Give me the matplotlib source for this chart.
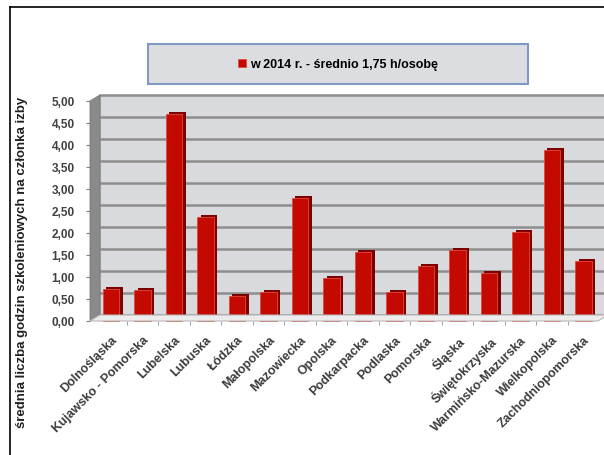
import numpy as np
import matplotlib
matplotlib.use("Agg")
import matplotlib.pyplot as plt
from matplotlib.patches import Polygon, Rectangle
from matplotlib.transforms import ScaledTranslation, IdentityTransform
from matplotlib.ticker import FixedLocator, FuncFormatter

plt.rcParams['font.family'] = ['Liberation Sans', 'DejaVu Sans']

regions = ['Dolnośląska', 'Kujawsko - Pomorska', 'Lubelska', 'Lubuska', 'Łódzka',
           'Małopolska', 'Mazowiecka', 'Opolska', 'Podkarpacka', 'Podlaska',
           'Pomorska', 'Śląska', 'Świętokrzyska', 'Warmińsko-Mazurska',
           'Wielkopolska', 'Zachodniopomorska']
hours = [0.72, 0.70, 4.70, 2.36, 0.56, 0.66, 2.80, 0.98, 1.57, 0.67,
         1.24, 1.62, 1.09, 2.03, 3.88, 1.36]
series_label = 'w 2014 r. - średnio 1,75 h/osobę'
y_title = 'średnia liczba godzin szkoleniowych na członka izby'

W, H = 604, 456
DPI = 100
fig = plt.figure(figsize=(W / DPI, H / DPI), dpi=DPI)

def fx(px):
    return px / W

def fy(py):
    return 1 - py / H

# front plane of the pseudo-3D box
left, right, top, bottom = 90, 598, 102, 322
ax = fig.add_axes([fx(left), fy(bottom), fx(right - left), (bottom - top) / H])
ax.set_xlim(-0.667, 15.46)
ax.set_ylim(0, 5)
ax.patch.set_visible(False)
for s in ax.spines.values():
    s.set_visible(False)

# depth offset of the back wall, in pixels
ox, oy = 10, 6
back = ax.transData + ScaledTranslation(ox / DPI, oy / DPI, fig.dpi_scale_trans)
back_axes = ax.transAxes + ScaledTranslation(ox / DPI, oy / DPI, fig.dpi_scale_trans)

# back wall
ax.add_patch(Rectangle((0, 0), 1, 1, transform=back_axes, facecolor='#d8dade',
                       edgecolor='#b0b0b0', lw=0.8, zorder=0, clip_on=False))
# gridlines on the back wall
ticks = np.arange(0, 5.01, 0.5)
for t in ticks:
    ax.plot([-0.667, 15.46], [t, t], color='#8e8e8e', lw=1.8,
            transform=back, zorder=1, clip_on=False)

# side wall and floor in pixel space
fl = ax.transAxes.transform((0, 0))
tl = ax.transAxes.transform((0, 1))
fr = ax.transAxes.transform((1, 0))
off = np.array([ox, oy])
side = Polygon([fl, tl, tl + off, fl + off], closed=True, transform=IdentityTransform(),
               facecolor='#8a8a8a', edgecolor='#777777', lw=0.6, zorder=1)
fig.patches.append(side)
floor = Polygon([fl, fr, fr + off, fl + off], closed=True, transform=IdentityTransform(),
                facecolor='#ececec', edgecolor='#b8b8b8', lw=0.8, zorder=1)
fig.patches.append(floor)

x = np.arange(len(regions))
bw = 0.51
# bar depth (side + top face)
shift = ScaledTranslation(3.5 / DPI, 2 / DPI, fig.dpi_scale_trans)
ax.bar(x, hours, width=bw, color='#7c0000', transform=ax.transData + shift,
       zorder=2, clip_on=False)
bars = ax.bar(x, hours, width=bw, color='#c40a00', edgecolor='#e04a3a', lw=0.6,
              zorder=3, clip_on=False, label=series_label)

ax.yaxis.set_major_locator(FixedLocator(ticks))
ax.yaxis.set_major_formatter(FuncFormatter(lambda v, p: f'{v:.2f}'.replace('.', ',')))
ax.tick_params(axis='y', length=3, color='#808080', labelsize=8.5, labelcolor='#404040', pad=8)
for lab in ax.get_yticklabels():
    lab.set_fontweight('bold')

ax.set_xticks(x)
ax.set_xticklabels(regions, rotation=45, ha='right', va='top', rotation_mode='anchor',
                   fontsize=9, fontweight='bold', color='#3c3c3c')
ax.xaxis.set_minor_locator(FixedLocator(x[:-1] + 0.5))
ax.tick_params(axis='x', which='major', length=0, pad=9)
ax.tick_params(axis='x', which='minor', length=3, color='#909090')

fig.text(fx(22), fy(262), y_title, rotation=90, ha='center', va='center',
         fontsize=9.5, fontweight='bold', color='#202020')

# legend box
fig.patches.append(Rectangle((fx(148), fy(85)), fx(528) - fx(148), (85 - 45) / H,
                             transform=fig.transFigure, facecolor='#dcdde0',
                             edgecolor='#7f98c4', lw=1.5, zorder=1))
fig.legend(handles=[bars], labels=[series_label], loc='center',
           bbox_to_anchor=(fx(338), fy(65)), frameon=False, handlelength=0.6,
           handleheight=0.6, handletextpad=0.3, prop={'size': 9, 'weight': 'bold'})

# outer frame lines
fig.add_artist(plt.Line2D([fx(10), 1], [fy(8), fy(8)], color='black', lw=1.2,
                          transform=fig.transFigure))
fig.add_artist(plt.Line2D([fx(10), fx(10)], [fy(8), 0], color='black', lw=1.2,
                          transform=fig.transFigure))

fig.savefig('out.png', dpi=DPI)
